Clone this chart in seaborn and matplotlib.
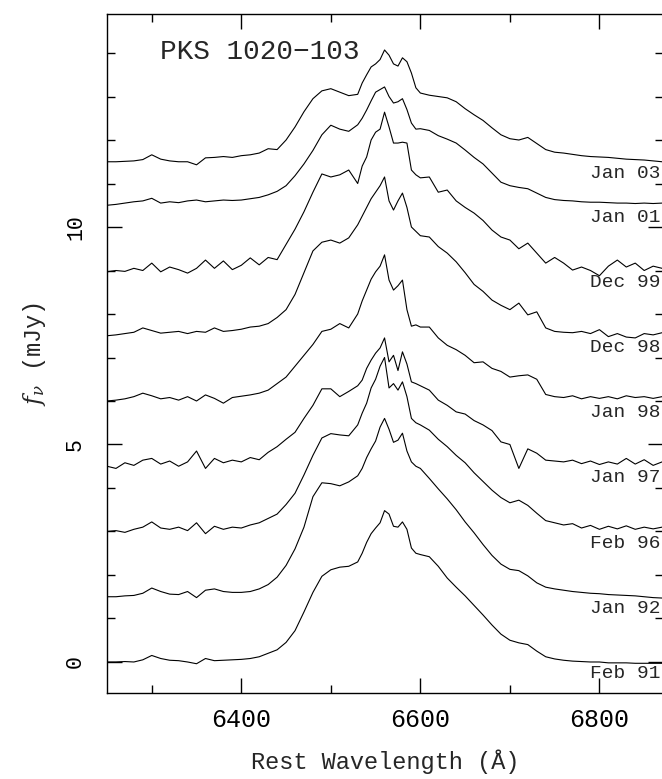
import matplotlib
matplotlib.use("Agg")
import matplotlib.pyplot as plt
import numpy as np
import pandas as pd
import seaborn as sns
from matplotlib.ticker import MultipleLocator

# ---------------- data ----------------
wavelength = [6250, 6260, 6270, 6280, 6290, 6300, 6310, 6320, 6330, 6340,
              6350, 6360, 6370, 6380, 6390, 6400, 6410, 6420, 6430, 6440,
              6450, 6460, 6470, 6480, 6490, 6500, 6510, 6520, 6530,
              6535, 6540, 6545, 6550, 6555, 6560, 6565, 6570, 6575, 6580,
              6585, 6590, 6595, 6600,
              6610, 6620, 6630, 6640, 6650, 6660, 6670, 6680, 6690, 6700,
              6710, 6720, 6730, 6740, 6750, 6760, 6770, 6780, 6790, 6800,
              6810, 6820, 6830, 6840, 6850, 6860, 6870]

epochs = ["Feb 91", "Jan 92", "Feb 96", "Jan 97", "Jan 98",
          "Dec 98", "Dec 99", "Jan 01", "Jan 03"]
offsets = [0.0, 1.5, 3.0, 4.5, 6.0, 7.5, 9.0, 10.5, 11.5]

feb91 = [0.0, 0.0, 0.01, 0.0, 0.05, 0.15, 0.08, 0.04, 0.03, 0.0, -0.04, 0.08, 0.03, 0.04, 0.05, 0.06, 0.08, 0.12, 0.2, 0.28, 0.45, 0.72, 1.15, 1.6, 1.97, 2.12, 2.18, 2.2, 2.3,
         2.5, 2.75, 2.95, 3.08, 3.2, 3.48, 3.4, 3.12, 3.1, 3.22, 3.05, 2.62, 2.5, 2.47,
         2.42, 2.2, 1.93, 1.72, 1.52, 1.3, 1.08, 0.85, 0.64, 0.5, 0.44, 0.4, 0.25, 0.12, 0.07, 0.04, 0.02, 0.01, 0.0, 0.0, -0.02, -0.02, -0.02, -0.03, -0.03, -0.03, -0.03]
jan92 = [0.0, 0.0, 0.02, 0.03, 0.08, 0.2, 0.12, 0.06, 0.05, 0.12, -0.02, 0.15, 0.18, 0.12, 0.1, 0.1, 0.12, 0.18, 0.28, 0.45, 0.72, 1.1, 1.6, 2.3, 2.62, 2.6, 2.55, 2.64, 2.78,
         2.95, 3.2, 3.4, 3.58, 3.9, 4.1, 3.85, 3.55, 3.6, 3.76, 3.35, 3.1, 3.0, 2.95,
         2.72, 2.48, 2.25, 2.0, 1.72, 1.47, 1.2, 0.95, 0.75, 0.63, 0.6, 0.48, 0.32, 0.22, 0.18, 0.15, 0.12, 0.1, 0.08, 0.07, 0.05, 0.04, 0.03, 0.02, 0.0, -0.02, -0.03]
feb96 = [0.0, 0.02, -0.02, 0.05, 0.1, 0.22, 0.08, 0.05, 0.1, 0.02, 0.2, -0.05, 0.12, 0.05, 0.1, 0.08, 0.15, 0.2, 0.3, 0.4, 0.62, 0.88, 1.3, 1.75, 2.15, 2.25, 2.22, 2.2, 2.45,
         2.72, 2.95, 3.3, 3.5, 3.8, 4.0, 3.3, 3.4, 3.25, 3.44, 3.1, 2.6, 2.5, 2.45,
         2.33, 2.12, 1.95, 1.75, 1.58, 1.35, 1.15, 0.95, 0.78, 0.66, 0.72, 0.6, 0.42, 0.25, 0.2, 0.15, 0.18, 0.08, 0.14, 0.05, 0.12, 0.06, 0.13, 0.05, 0.1, 0.06, 0.1]
jan97 = [0.0, -0.05, 0.08, 0.02, 0.14, 0.18, 0.05, 0.12, 0.0, 0.1, 0.35, -0.05, 0.18, 0.08, 0.14, 0.1, 0.2, 0.15, 0.32, 0.45, 0.62, 0.78, 1.1, 1.4, 1.78, 1.78, 1.6, 1.72, 1.85,
         1.98, 2.25, 2.44, 2.6, 2.72, 2.95, 2.4, 2.55, 2.2, 2.63, 2.35, 1.94, 1.9, 1.85,
         1.75, 1.52, 1.4, 1.25, 1.2, 1.05, 0.95, 0.82, 0.56, 0.5, -0.05, 0.4, 0.3, 0.14, 0.12, 0.1, 0.14, 0.06, 0.12, 0.04, 0.1, 0.05, 0.18, 0.05, 0.15, 0.02, 0.1]
jan98 = [0.0, 0.02, 0.05, 0.1, 0.18, 0.12, 0.05, 0.08, 0.02, 0.1, 0.0, 0.14, 0.06, -0.05, 0.08, 0.11, 0.14, 0.18, 0.25, 0.4, 0.55, 0.8, 1.05, 1.3, 1.6, 1.65, 1.78, 1.68, 2.0,
         2.3, 2.55, 2.8, 2.97, 3.1, 3.36, 2.78, 2.55, 2.65, 2.78, 2.1, 1.72, 1.75, 1.7,
         1.7, 1.45, 1.28, 1.18, 1.05, 0.88, 0.9, 0.75, 0.68, 0.55, 0.58, 0.6, 0.5, 0.15, 0.1, 0.08, 0.12, 0.05, 0.1, 0.06, 0.1, 0.05, 0.12, 0.08, 0.1, 0.06, 0.1]
dec98 = [0.0, 0.02, 0.05, 0.08, 0.18, 0.12, 0.06, 0.08, 0.1, 0.05, 0.1, 0.08, 0.18, 0.1, 0.12, 0.15, 0.2, 0.22, 0.28, 0.42, 0.6, 0.95, 1.45, 1.95, 2.15, 2.2, 2.13, 2.25, 2.55,
         2.75, 2.95, 3.15, 3.3, 3.45, 3.65, 3.1, 2.89, 3.1, 3.28, 2.95, 2.5, 2.4, 2.3,
         2.27, 2.05, 1.9, 1.7, 1.45, 1.18, 1.02, 0.82, 0.7, 0.6, 0.75, 0.48, 0.55, 0.18, 0.1, 0.08, 0.07, 0.1, 0.05, 0.14, -0.02, 0.05, -0.03, -0.05, 0.05, 0.02, 0.07]
dec99 = [-0.03, 0.0, -0.02, 0.05, 0.0, 0.17, -0.03, 0.08, 0.02, -0.06, 0.05, 0.24, 0.05, 0.22, 0.02, 0.12, 0.29, 0.13, 0.3, 0.25, 0.6, 0.95, 1.35, 1.8, 2.22, 2.15, 2.2, 2.31, 2.0,
         2.4, 2.61, 3.0, 3.18, 3.25, 3.64, 3.3, 2.93, 2.93, 2.95, 2.93, 2.31, 2.2, 2.13,
         2.15, 1.8, 1.85, 1.6, 1.45, 1.32, 1.15, 0.93, 0.77, 0.7, 0.5, 0.63, 0.4, 0.17, 0.3, 0.17, 0.01, 0.08, 0.0, -0.12, 0.1, 0.24, 0.08, 0.17, 0.0, 0.1, 0.05]
jan01 = [0.0, 0.02, 0.05, 0.08, 0.1, 0.16, 0.05, 0.08, 0.06, 0.1, 0.12, 0.08, 0.1, 0.12, 0.11, 0.12, 0.15, 0.18, 0.24, 0.32, 0.45, 0.68, 0.95, 1.26, 1.62, 1.84, 1.75, 1.7, 1.85,
         2.0, 2.19, 2.4, 2.6, 2.66, 2.72, 2.5, 2.35, 2.38, 2.45, 2.2, 1.89, 1.75, 1.76,
         1.72, 1.6, 1.52, 1.43, 1.27, 1.1, 0.95, 0.74, 0.53, 0.45, 0.41, 0.38, 0.28, 0.18, 0.13, 0.11, 0.1, 0.08, 0.07, 0.07, 0.06, 0.05, 0.05, 0.04, 0.05, 0.04, 0.05]
jan03 = [0.0, 0.0, 0.01, 0.02, 0.05, 0.16, 0.06, 0.02, 0.0, 0.0, -0.07, 0.09, 0.1, 0.12, 0.1, 0.14, 0.16, 0.2, 0.3, 0.28, 0.5, 0.8, 1.15, 1.45, 1.63, 1.68, 1.6, 1.52, 1.55,
         1.81, 2.0, 2.18, 2.25, 2.35, 2.57, 2.45, 2.25, 2.2, 2.39, 2.3, 2.04, 1.7, 1.58,
         1.53, 1.5, 1.47, 1.38, 1.22, 1.08, 0.95, 0.78, 0.62, 0.53, 0.5, 0.56, 0.42, 0.28, 0.22, 0.2, 0.17, 0.14, 0.12, 0.11, 0.1, 0.08, 0.06, 0.05, 0.04, 0.02, 0.0]

spectra = [feb91, jan92, feb96, jan97, jan98, dec98, dec99, jan01, jan03]
title_text = "PKS 1020\u2212103"

# ---------------- frame ----------------
rows = []
for name, off, spec in zip(epochs, offsets, spectra):
    for w, f in zip(wavelength, spec):
        rows.append({"wavelength": w, "flux": f + off, "epoch": name})
df = pd.DataFrame(rows)

sns.set_style("ticks")
plt.rcParams["font.family"] = ["Liberation Mono", "DejaVu Sans Mono"]
plt.rcParams["mathtext.fontset"] = "dejavuserif"
plt.rcParams["axes.edgecolor"] = "black"
plt.rcParams["xtick.color"] = "black"
plt.rcParams["ytick.color"] = "black"

fig = plt.figure(figsize=(6.62, 7.79), dpi=100)
ax = fig.add_axes([107 / 662, 1 - 693 / 779, (663 - 107) / 662, (693 - 14) / 779])

sns.lineplot(data=df, x="wavelength", y="flux", units="epoch", estimator=None,
             color="black", linewidth=0.8, sort=False, legend=False, ax=ax)

ax.set_xlim(6250, 6871)
ax.set_ylim(-0.713, 14.897)

ax.xaxis.set_major_locator(MultipleLocator(200))
ax.xaxis.set_minor_locator(MultipleLocator(100))
ax.yaxis.set_major_locator(MultipleLocator(5))
ax.yaxis.set_minor_locator(MultipleLocator(1))

ax.tick_params(which="both", direction="in", top=True, right=True, width=1.0)
ax.tick_params(which="major", length=11)
ax.tick_params(which="minor", length=5.5)
ax.tick_params(axis="x", labelsize=18, pad=11)
ax.tick_params(axis="y", labelsize=15.5, pad=15, labelrotation=90)
for lab in ax.get_yticklabels():
    lab.set_verticalalignment("center")

for sp in ax.spines.values():
    sp.set_linewidth(1.0)
    sp.set_color("black")

ax.set_xlabel("Rest Wavelength (\u00c5)", fontsize=17, labelpad=12)
ax.set_ylabel(r"$f_\nu$ (mJy)", fontsize=17, labelpad=12)

for name, off in zip(epochs, offsets):
    ax.text(6868, off - 0.27, name, ha="right", va="center", fontsize=14)

ax.text(6309, 14.02, title_text, ha="left", va="center", fontsize=20)

fig.savefig("out.png", dpi=100)
